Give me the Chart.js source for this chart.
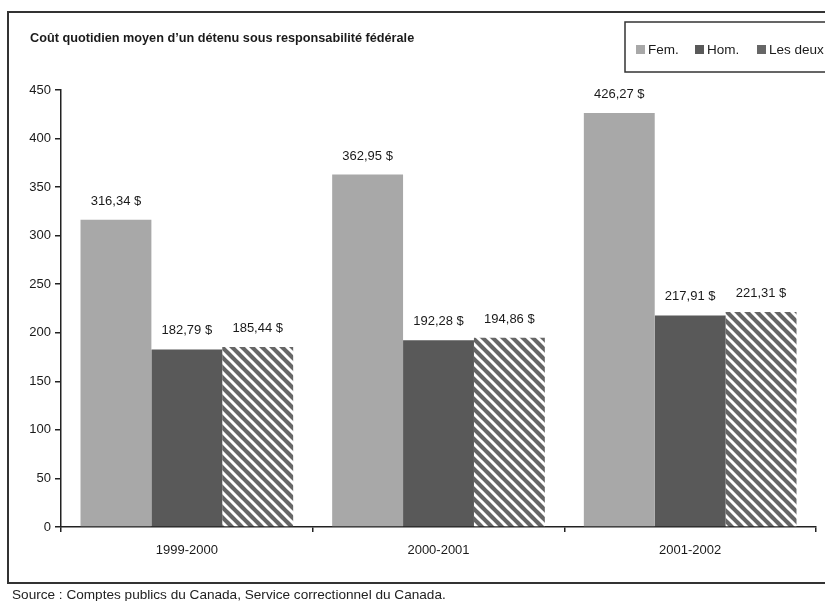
<!DOCTYPE html>
<html>
<head>
<meta charset="utf-8">
<script src="https://cdn.jsdelivr.net/npm/chart.js@4/dist/chart.umd.min.js"></script>
<style>
html,body{margin:0;padding:0;background:#fff;}
#wrap{width:825px;height:601px;position:relative;}
</style>
</head>
<body>
<div id="wrap"><canvas id="c" width="825" height="601"></canvas></div>
<script>
const categories = ['1999-2000', '2000-2001', '2001-2002'];
const seriesNames = ['Fem.', 'Hom.', 'Les deux'];
const femValues = [316.34, 362.95, 426.27];
const homValues = [182.79, 192.28, 217.91];
const deuxValues = [185.44, 194.86, 221.31];
const yTicks = [0, 50, 100, 150, 200, 250, 300, 350, 400, 450];
const titleText = 'Coût quotidien moyen d\u2019un détenu sous responsabilité fédérale';
const sourceText = 'Source : Comptes publics du Canada, Service correctionnel du Canada.';

const FONT = '"Liberation Sans", Arial, sans-serif';
const colFem = '#a8a8a8';
const colHom = '#595959';
const colDeux = '#666666';

function hatch() {
  const s = 10;
  const p = document.createElement('canvas');
  p.width = s; p.height = s;
  const g = p.getContext('2d');
  g.fillStyle = colDeux;
  g.fillRect(0, 0, s, s);
  g.strokeStyle = '#ffffff';
  g.lineWidth = 3;
  g.beginPath();
  for (let k = -1; k <= 1; k++) {
    g.moveTo(k * s - 1, -1);
    g.lineTo(k * s + s + 1, s + 1);
  }
  g.stroke();
  return g.createPattern(p, 'repeat');
}

function fmt(v) {
  return v.toFixed(2).replace('.', ',') + ' $';
}

const framePlugin = {
  id: 'frame',
  beforeDraw(chart) {
    const ctx = chart.ctx;
    ctx.save();
    ctx.fillStyle = '#fff';
    ctx.fillRect(0, 0, chart.width, chart.height);
    ctx.strokeStyle = '#333';
    ctx.lineWidth = 2;
    ctx.strokeRect(8, 12, 840, 571);
    // title
    ctx.fillStyle = '#1a1a1a';
    ctx.font = 'bold 12.7px ' + FONT;
    ctx.textBaseline = 'middle';
    ctx.textAlign = 'left';
    ctx.fillText(titleText, 30, 38);
    // source
    ctx.font = '13.6px ' + FONT;
    ctx.fillStyle = '#222';
    ctx.fillText(sourceText, 12, 595);
    // legend
    ctx.strokeStyle = '#333';
    ctx.lineWidth = 1.5;
    ctx.strokeRect(625, 22, 220, 50);
    const xs = [636, 695, 757];
    ctx.font = '13.5px ' + FONT;
    chart.data.datasets.forEach((ds, i) => {
      ctx.fillStyle = ds.legendColor;
      ctx.fillRect(xs[i], 45, 9, 9);
      ctx.fillStyle = '#1a1a1a';
      ctx.fillText(ds.label, xs[i] + 12, 50);
    });
    ctx.restore();
  }
};

const labelPlugin = {
  id: 'vals',
  afterDatasetsDraw(chart) {
    const ctx = chart.ctx;
    ctx.save();
    ctx.font = '13px ' + FONT;
    ctx.fillStyle = '#1a1a1a';
    ctx.textAlign = 'center';
    ctx.textBaseline = 'alphabetic';
    chart.data.datasets.forEach((ds, i) => {
      const meta = chart.getDatasetMeta(i);
      meta.data.forEach((bar, j) => {
        ctx.fillText(fmt(ds.data[j]), bar.x, bar.y - 15);
      });
    });
    ctx.restore();
  }
};

new Chart(document.getElementById('c'), {
  type: 'bar',
  data: {
    labels: categories,
    datasets: [
      { label: seriesNames[0], data: femValues, backgroundColor: colFem, legendColor: colFem },
      { label: seriesNames[1], data: homValues, backgroundColor: colHom, legendColor: colHom },
      { label: seriesNames[2], data: deuxValues, backgroundColor: hatch(), legendColor: '#666' }
    ]
  },
  options: {
    responsive: false,
    animation: false,
    devicePixelRatio: 1,
    categoryPercentage: 0.845,
    barPercentage: 1,
    layout: { padding: { top: 90, right: 9, left: 0, bottom: 0 } },
    plugins: { legend: { display: false }, title: { display: false }, tooltip: { enabled: false } },
    scales: {
      x: {
        grid: { drawOnChartArea: false, drawTicks: true, tickLength: 5, color: '#222', lineWidth: 1.5, offset: true },
        border: { display: true, color: '#222', width: 1.5 },
        ticks: { font: { family: FONT, size: 13 }, color: '#1a1a1a', padding: 11 },
        afterFit(scale) { scale.height = 74; }
      },
      y: {
        min: 0, max: 450,
        afterBuildTicks(scale) { scale.ticks = yTicks.map(v => ({ value: v })); },
        grid: { drawOnChartArea: false, drawTicks: true, tickLength: 6, color: '#222', lineWidth: 1.5 },
        border: { display: true, color: '#222', width: 1.5 },
        ticks: { font: { family: FONT, size: 13 }, color: '#1a1a1a', padding: 4 },
        afterFit(scale) { scale.width = 61; }
      }
    }
  },
  plugins: [framePlugin, labelPlugin]
});
</script>
</body>
</html>
